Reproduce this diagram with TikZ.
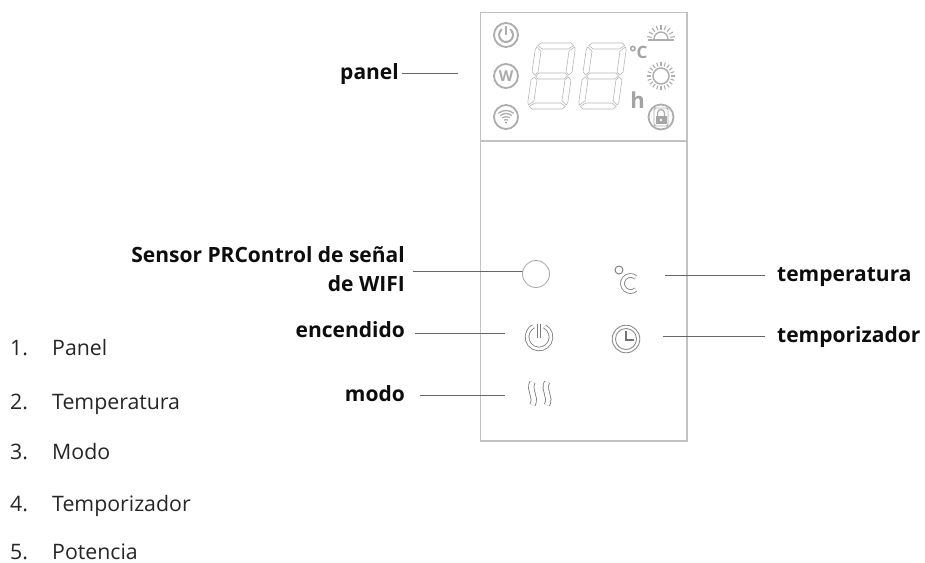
\documentclass[tikz,border=0pt]{standalone}
\usepackage{fontspec}
\setmainfont{Open Sans}
\begin{document}
\begin{tikzpicture}[x=1pt,y=-1pt,
  lab/.style={font=\fontsize{21}{29}\selectfont\bfseries,inner sep=0pt,text=black!95},
  lst/.style={font=\fontsize{21.3}{24}\selectfont,inner sep=0pt,anchor=base west,text=black!85},
  ldr/.style={draw=black!60,line width=0.9pt},
  pan/.style={draw=black!24,line width=1.3pt},
  ico/.style={draw=black!32,line width=1pt,fill=none},
  dbl/.style={draw=black!52,line width=0.8pt,double=white,double distance=2.8pt,fill=none},
  seg/.style={draw=black!28,line width=0.6pt,line join=round}]
\useasboundingbox (0,0) rectangle (925,562);
\fill[white] (0,0) rectangle (925,562);
% panel
\draw[pan] (480.5,12.5) rectangle (687,441);
\draw[pan] (480.5,141) -- (687,141);
% list
\node[lst] (n1) at (10,355) {1.};\node[lst] (t1) at (52,355) {Panel};
\node[lst] (n2) at (10,409) {2.};\node[lst] (t2) at (52,409) {Temperatura};
\node[lst] (n3) at (10,459) {3.};\node[lst] (t3) at (52,459) {Modo};
\node[lst] (n4) at (10,511) {4.};\node[lst] (t4) at (52,511) {Temporizador};
\node[lst] (n5) at (10,559.5) {5.};\node[lst] (t5) at (52,559.5) {Potencia};
% labels
\node[lab,anchor=base east] (panel) at (399,79) {panel};
\node[lab,anchor=base east] (sensorA) at (405,262) {Sensor PRControl de señal};
\node[lab,anchor=base east] (sensorB) at (405,291) {de WIFI};
\node[lab,anchor=base east] (enc) at (405,337) {encendido};
\node[lab,anchor=base east] (modo) at (405,401) {modo};
\node[lab,anchor=base west] (temp) at (777,281) {temperatura};
\node[lab,anchor=base west] (tempo) at (777,342) {temporizador};
% leader ends
\coordinate (pS) at (402,73); \coordinate (pE) at (458,73);
\coordinate (sS) at (413,271.5); \coordinate (sE) at (523,271.5);
\coordinate (eS) at (415,333); \coordinate (eE) at (505,333);
\coordinate (mS) at (420,395); \coordinate (mE) at (505,395);
\coordinate (tS) at (765,275); \coordinate (tE) at (665,275);
\coordinate (oS) at (765,336); \coordinate (oE) at (663,336);
\draw[ldr] (pS) -- (pE);
\draw[ldr] (sS) -- (sE);
\draw[ldr] (eS) -- (eE);
\draw[ldr] (mS) -- (mE);
\draw[ldr] (tS) -- (tE);
\draw[ldr] (oS) -- (oE);
% sensor circle
\node[circle,draw=black!35,line width=0.8pt,minimum size=27pt,inner sep=0pt] (sens) at (536,274) {};
% top left icons
\foreach \cy in {35,76,117}{\draw[ico,line width=1.8pt] (506,\cy) circle (12);}
\draw[ico,line width=2pt] (506,35) ++(-55:7) arc[start angle=-55,end angle=235,radius=7];
\draw[ico,line width=2pt] (506,26) -- (506,35);
\node[font=\fontsize{15}{15}\selectfont\bfseries,text=black!33,inner sep=0pt] (w) at (506,76) {W};
\foreach \r/\w in {3/1.2,6/1.2,9/1.3,12/1.3}{\draw[ico,line width=\w pt] (506,122.5) ++(230:\r) arc[start angle=230,end angle=310,radius=\r];}
\fill[black!35] (506,122.5) circle (1.2);
% seven-segment digits
\foreach \cx in {551.5,602.5}{
 \begin{scope}[shift={(\cx,76)},xslant=0.14]
 \draw[seg] (-15,-33)--(15,-33)--(18,-30.5)--(13,-27)--(-13,-27)--(-18,-30.5)--cycle;
 \draw[seg] (-13,-3)--(13,-3)--(16,0)--(13,3)--(-13,3)--(-16,0)--cycle;
 \draw[seg] (-15,33)--(15,33)--(18,30.5)--(13,27)--(-13,27)--(-18,30.5)--cycle;
 \draw[seg] (-19,-29)--(-14,-25)--(-14,-4)--(-17,-1)--(-20,-4)--(-20,-26)--cycle;
 \draw[seg] (19,-29)--(14,-25)--(14,-4)--(17,-1)--(20,-4)--(20,-26)--cycle;
 \draw[seg] (-17,1)--(-14,4)--(-14,25)--(-19,29)--(-20,26)--(-20,4)--cycle;
 \draw[seg] (17,1)--(14,4)--(14,25)--(19,29)--(20,26)--(20,4)--cycle;
 \end{scope}}
% units
\node[font=\fontsize{17}{17}\selectfont\bfseries,text=black!36,inner sep=0pt] (cc) at (638.5,52) {°C};
\node[font=\fontsize{22}{22}\selectfont\bfseries,text=black!36,inner sep=0pt,anchor=base] (h) at (637.5,108) {h};
% top right icons
\draw[ico,line width=1.5pt] (648,40) -- (674,40);
\draw[ico,line width=1.3pt] (661,39) ++(180:7) arc[start angle=180,end angle=360,radius=7];
\foreach \a in {190,210,...,350}{\draw[ico,line width=1.1pt] (661,39) ++(\a:9.5) -- ++(\a:4.5);}
\draw[ico,line width=1.5pt] (661,76) circle (8);
\foreach \a in {0,18,...,342}{\draw[ico,line width=1.1pt] (661,76) ++(\a:10) -- ++(\a:4);}
\draw[ico,line width=1.8pt] (661,117) circle (12.5);
\draw[ico,line width=0.9pt,rounded corners=2pt] (654,108) rectangle (668,126);
\draw[ico,line width=1.3pt] (657.5,116) -- (657.5,113) arc[start angle=180,end angle=360,radius=3.5] -- (664.5,116);
\fill[black!35] (655.5,116) rectangle (666.5,124);
\fill[white] (661,120) circle (1.3);
% lower icons
\draw[dbl] (539,337) ++(-62:12) arc[start angle=-62,end angle=242,radius=12];
\draw[dbl] (539,324) -- (539,338);
\draw[draw=black!52,line width=0.9pt] (619,270) circle (4);
\draw[dbl,double distance=3pt] (630.5,283.5) ++(-50:8) arc[start angle=-50,end angle=-310,radius=8];
\draw[draw=black!45,line width=0.9pt] (626,339) circle (13.8);
\draw[draw=black!45,line width=0.9pt] (626,339) circle (10.5);
\draw[draw=black!55,line width=1.6pt] (626,331) -- (626,340) -- (634,340);
\draw[dbl,double distance=4.5pt,rounded corners] (532.5,382) .. controls (528,391) and (537,396) .. (532.5,405);
\draw[dbl,double distance=4.5pt] (547,382) .. controls (542.5,391) and (551.5,396) .. (547,405);
\end{tikzpicture}
\end{document}
